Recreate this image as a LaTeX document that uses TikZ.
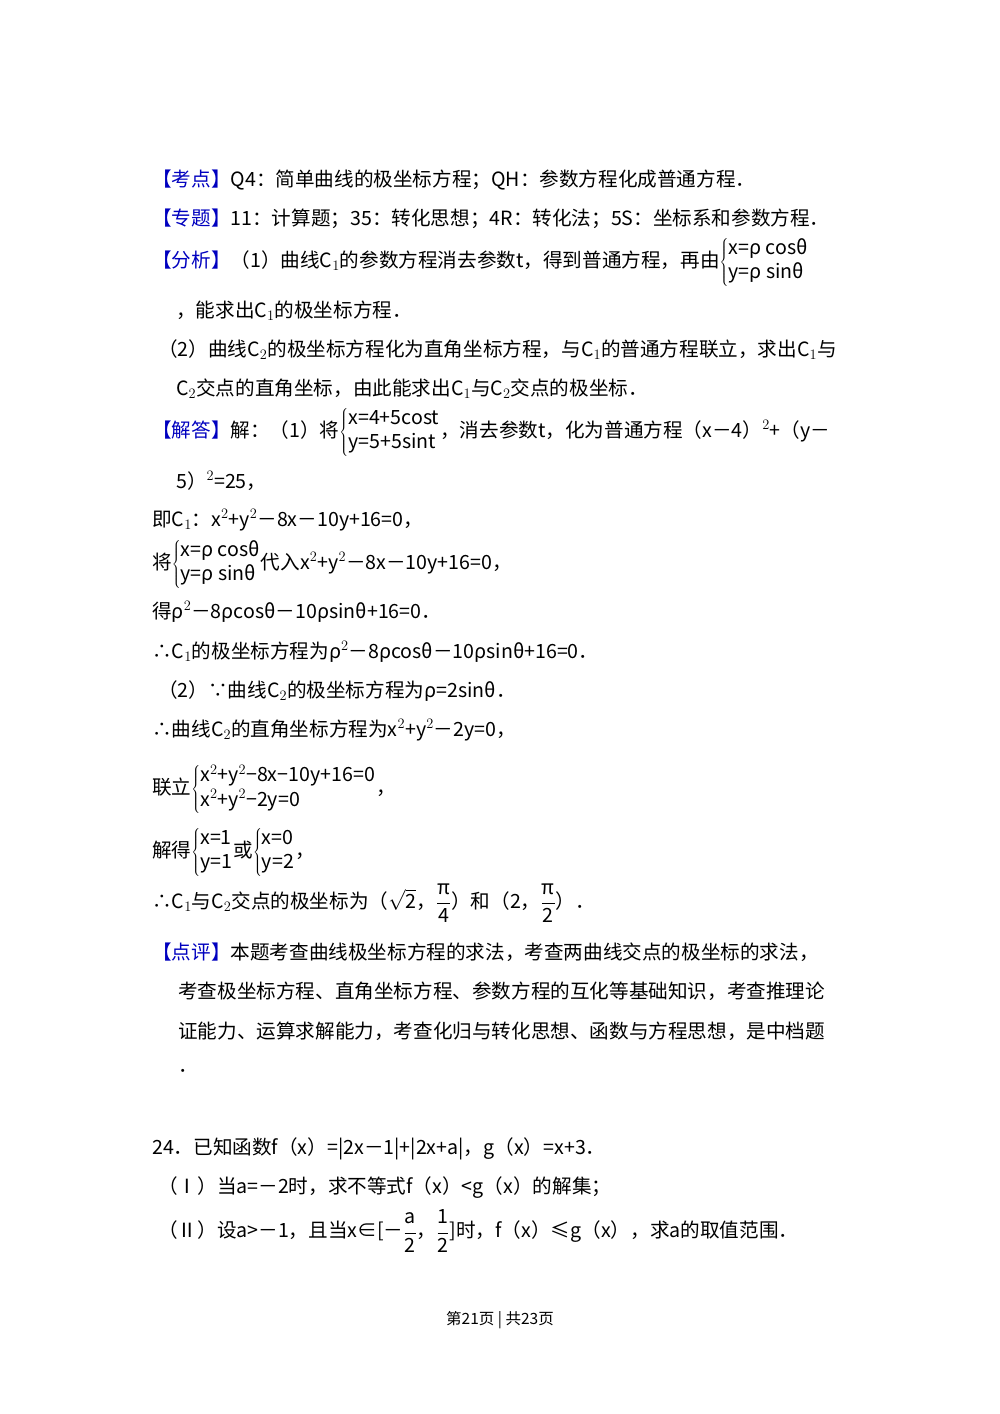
\documentclass[tikz,border=0pt]{standalone}
\usepackage{fontspec}
\setmainfont{Noto Sans CJK SC}
\begin{document}
\begin{tikzpicture}[x=1pt,y=-1pt,
 every node/.style={anchor=west,inner sep=0pt,font=\fontsize{19.6}{23}\selectfont}]
\useasboundingbox[fill=white] (0,0) rectangle (1000,1414);
\newcommand\sys[2]{$\left\{\begin{array}{@{}l@{}}\mbox{#1}\\[1pt]\mbox{#2}\end{array}\right.$}
\newcommand\fr[2]{$\displaystyle\frac{\mbox{#1}}{\mbox{#2}}$}
\node (l1) at (152,180) {\textcolor{blue!75!black}{【考点】}Q4：简单曲线的极坐标方程；QH：参数方程化成普通方程．};
\node (l2) at (152,219) {\textcolor{blue!75!black}{【专题】}11：计算题；35：转化思想；4R：转化法；5S：坐标系和参数方程．};
\node (l3) at (152,262) {\textcolor{blue!75!black}{【分析】}（1）曲线C$_1$的参数方程消去参数t，得到普通方程，再由\sys{x=ρ cosθ}{y=ρ sinθ}};
\node (l4) at (176,311) {，能求出C$_1$的极坐标方程．};
\node (l5) at (158,350) {（2）曲线C$_2$的极坐标方程化为直角坐标方程，与C$_1$的普通方程联立，求出C$_1$与};
\node (l6) at (176,389) {C$_2$交点的直角坐标，由此能求出C$_1$与C$_2$交点的极坐标．};
\node (l7) at (152,432) {\textcolor{blue!75!black}{【解答】}解：（1）将\sys{x=4+5cost}{y=5+5sint}，消去参数t，化为普通方程（x－4）$^{2}$+（y－};
\node (l8) at (176,481) {5）$^2$=25，};
\node (l9) at (152,520) {即C$_1$：x$^2$+y$^2$－8x－10y+16=0，};
\node (l10) at (152,564) {将\sys{x=ρ cosθ}{y=ρ sinθ}代入x$^2$+y$^2$－8x－10y+16=0，};
\node (l11) at (152,612) {得ρ$^2$－8ρcosθ－10ρsinθ+16=0．};
\node (l12) at (152,652) {∴C$_1$的极坐标方程为ρ$^2$－8ρcosθ－10ρsinθ+16=0．};
\node (l13) at (158,691) {（2）∵曲线C$_2$的极坐标方程为ρ=2sinθ．};
\node (l14) at (152,730) {∴曲线C$_2$的直角坐标方程为x$^2$+y$^2$－2y=0，};
\node (l15) at (152,789) {联立\sys{x$^2$+y$^2$−8x−10y+16=0}{x$^2$+y$^2$−2y=0}，};
\node (l16) at (152,852) {解得\sys{x=1}{y=1}或\sys{x=0}{y=2}，};
\node (l17) at (152,903) {∴C$_1$与C$_2$交点的极坐标为（$\sqrt{\mbox{2}}$，\fr{π}{4}）和（2，\fr{π}{2}）．};
\node (l18) at (152,952) {\textcolor{blue!75!black}{【点评】}本题考查曲线极坐标方程的求法，考查两曲线交点的极坐标的求法，};
\node (l19) at (178,991) {考查极坐标方程、直角坐标方程、参数方程的互化等基础知识，考查推理论};
\node (l20) at (178,1031) {证能力、运算求解能力，考查化归与转化思想、函数与方程思想，是中档题};
\node (l21) at (178,1071) {．};
\node (l22) at (152,1149) {24．已知函数f（x）=|2x－1|+|2x+a|，g（x）=x+3．};
\node (l23) at (158,1188) {（Ⅰ）当a=－2时，求不等式f（x）<g（x）的解集；};
\node (l24) at (158,1231) {（Ⅱ）设a>－1，且当x∈[－\fr{a}{2}，\fr{1}{2}]时，f（x）≤g（x），求a的取值范围．};
\node[font=\fontsize{15.5}{18}\selectfont,anchor=center] (ft) at (500,1320) {第21页 | 共23页};
\end{tikzpicture}
\end{document}
